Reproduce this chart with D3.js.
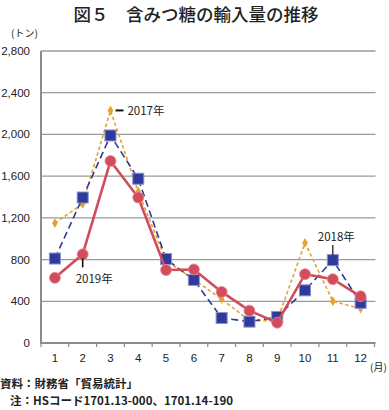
<!DOCTYPE html>
<html><head><meta charset="utf-8">
<script src="https://cdn.jsdelivr.net/npm/d3@7"></script>
<style>
html,body{margin:0;padding:0;background:#fff;}
svg{display:block;}
</style>
</head><body>
<svg id="chart" width="389" height="410"></svg>
<script>
const months = [1,2,3,4,5,6,7,8,9,10,11,12];
const yTicks = [0,400,800,1200,1600,2000,2400,2800];
const series2017 = [1150,1335,2230,1450,790,610,420,215,215,960,400,330];
const series2018 = [810,1395,1990,1575,805,605,240,205,250,505,795,385];
const series2019 = [625,850,1745,1395,700,705,490,310,195,660,612,448];
const title = "図５　含みつ糖の輸入量の推移";
const unitY = "(トン)";
const unitX = "(月)";
const source1 = "資料：財務省「貿易統計」";
const source2 = "注：HSコード1701.13-000、1701.14-190";

const svg = d3.select("#chart");
const L = 41, R = 374.5, T = 51, B = 343;
const x = d3.scaleBand().domain(months).range([L, R]).padding(0);
const cx = m => x(m) + x.bandwidth()/2;
const y = d3.scaleLinear().domain([0,2800]).range([B, T]);
const jp = "'Noto Sans CJK JP', sans-serif";
const num = "'Liberation Sans', Arial, sans-serif";

// title
svg.append("text").attr("x", 196).attr("y", 20.5).attr("text-anchor","middle")
  .attr("font-family", jp).attr("font-size", 17.5).attr("font-weight", 500).attr("fill","#222")
  .text(title);

// gridlines
svg.append("g").selectAll("line").data(yTicks.filter(d=>d>0)).join("line")
  .attr("x1", L).attr("x2", R+1).attr("y1", d=>y(d)).attr("y2", d=>y(d))
  .attr("stroke", "#9a9a9a").attr("stroke-width", 1.3);

// y labels
svg.append("g").selectAll("text").data(yTicks).join("text")
  .attr("x", 30).attr("y", d=>y(d)+4).attr("text-anchor","end")
  .attr("font-family", num).attr("font-size", 11.5).attr("fill","#222")
  .text(d3.format(","));

svg.append("text").attr("x", 11).attr("y", 37)
  .attr("font-family", jp).attr("font-size", 10).attr("fill","#222").text(unitY);

// axes
svg.append("line").attr("x1", L).attr("x2", L).attr("y1", T).attr("y2", B)
  .attr("stroke", "#8c8c8c").attr("stroke-width", 2);
svg.append("line").attr("x1", L-1).attr("x2", R+1).attr("y1", B).attr("y2", B)
  .attr("stroke", "#8c8c8c").attr("stroke-width", 2);
const bounds = months.map(m => x(m)).concat([R]);
svg.append("g").selectAll("line").data(bounds).join("line")
  .attr("x1", d=>d).attr("x2", d=>d).attr("y1", B).attr("y2", B+4)
  .attr("stroke", "#8c8c8c").attr("stroke-width", 1.2);

svg.append("g").selectAll("text").data(months).join("text")
  .attr("x", d=>cx(d)).attr("y", 362).attr("text-anchor","middle")
  .attr("font-family", num).attr("font-size", 11.5).attr("fill","#222")
  .text(d=>d);
svg.append("text").attr("x", 370).attr("y", 371)
  .attr("font-family", jp).attr("font-size", 10).attr("fill","#222").text(unitX);

const line = d3.line().x((d,i)=>cx(months[i])).y(d=>y(d));

// 2017 orange
svg.append("path").datum(series2017).attr("d", line).attr("fill","none")
  .attr("stroke","#e3a232").attr("stroke-width",1.6).attr("stroke-dasharray","3.5,2.5");
svg.append("g").selectAll("path").data(series2017).join("path")
  .attr("d", d3.symbol().type(d3.symbolDiamond).size(28))
  .attr("transform",(d,i)=>`translate(${cx(months[i])},${y(d)})`)
  .attr("fill","#e3a232");

// 2018 blue
svg.append("path").datum(series2018).attr("d", line).attr("fill","none")
  .attr("stroke","#2f3a92").attr("stroke-width",1.6).attr("stroke-dasharray","7,4");
svg.append("g").selectAll("rect").data(series2018).join("rect")
  .attr("x",(d,i)=>cx(months[i])-5.5).attr("y",d=>y(d)-5.5)
  .attr("width",11).attr("height",11)
  .attr("fill","#2e3a9c").attr("stroke","#8a90d0").attr("stroke-width",1);

// 2019 red
svg.append("path").datum(series2019).attr("d", line).attr("fill","none")
  .attr("stroke","#d04c5a").attr("stroke-width",2.6);
svg.append("g").selectAll("circle").data(series2019).join("circle")
  .attr("cx",(d,i)=>cx(months[i])).attr("cy",d=>y(d)).attr("r",5.5)
  .attr("fill","#d24c5b").attr("stroke","#e88a95").attr("stroke-width",0.8);

// annotations
const ann = svg.append("g").attr("font-family", jp).attr("font-size", 11.5).attr("fill","#222");
// 2017
const a17x = cx(3), a17y = y(series2017[2]);
ann.append("line").attr("x1", a17x+5).attr("x2", a17x+13).attr("y1", a17y).attr("y2", a17y)
  .attr("stroke","#111").attr("stroke-width",2);
ann.append("text").attr("x", a17x+17).attr("y", a17y+4.5).text("2017年");
// 2019
const a19x = cx(2), a19y = y(series2019[1]);
ann.append("line").attr("x1", a19x).attr("x2", a19x).attr("y1", a19y+4).attr("y2", a19y+13)
  .attr("stroke","#111").attr("stroke-width",1.6);
ann.append("text").attr("x", a19x-7).attr("y", a19y+29).text("2019年");
// 2018
const a18x = cx(11), a18y = y(series2018[10]);
ann.append("line").attr("x1", a18x).attr("x2", a18x).attr("y1", a18y-15).attr("y2", a18y-5)
  .attr("stroke","#111").attr("stroke-width",1.2);
ann.append("text").attr("x", a18x-15).attr("y", a18y-19).text("2018年");

// source
svg.append("text").attr("x", 0).attr("y", 388)
  .attr("font-family", jp).attr("font-size", 11.5).attr("font-weight", 700).attr("fill","#222").text(source1);
svg.append("text").attr("x", 10).attr("y", 405)
  .attr("font-family", jp).attr("font-size", 11.5).attr("font-weight", 700).attr("fill","#222").text(source2);
</script>
</body></html>
